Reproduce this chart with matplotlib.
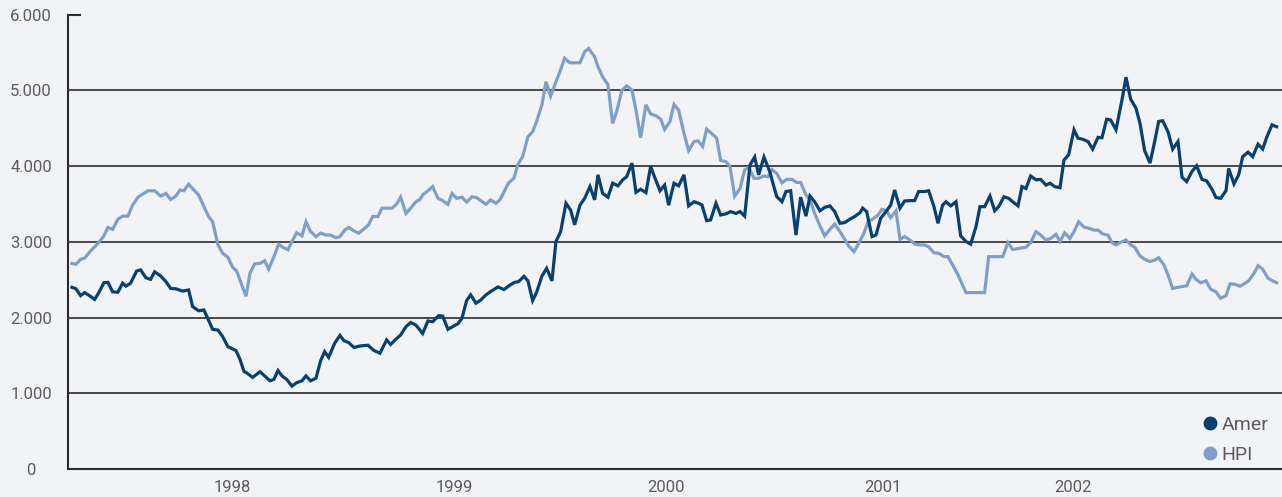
"""
plot.py

Weekly index comparison: Amer against the HPI benchmark, late 1997 to 2002.
Day offsets count from the first weekly observation in the series.
"""

import matplotlib.pyplot as plt
from matplotlib.lines import Line2D
from matplotlib.ticker import FuncFormatter

# Amer index (day offset, level)
amer_day = [
    3, 9, 16, 22, 30, 37, 43, 51, 57, 64, 72, 79, 84, 91, 100, 106, 114, 121,
    127, 136, 144, 151, 159, 169, 178, 184, 193, 201, 214, 222, 229, 237, 249,
    255, 261, 265, 274, 285, 292, 300, 306, 312, 318, 325, 333, 340, 348, 354,
    361, 369, 376, 382, 388, 397, 405, 411, 418, 426, 435, 447, 456, 465, 475,
    481, 489, 496, 504, 511, 519, 529, 537, 544, 553, 559, 567, 574, 582, 588,
    595, 601, 609, 616, 624, 633, 642, 651, 660, 667, 673, 681, 687, 694, 700,
    708, 715, 723, 729, 736, 744, 751, 757, 765, 772, 780, 787, 792, 799, 807,
    814, 822, 829, 835, 843, 849, 856, 864, 871, 877, 885, 892, 898, 906, 913,
    921, 928, 936, 943, 948, 955, 961, 969, 976, 984, 991, 999, 1005, 1012,
    1020, 1027, 1033, 1041, 1050, 1053, 1060, 1068, 1074, 1081, 1089, 1096,
    1104, 1110, 1117, 1125, 1132, 1140, 1147, 1155, 1162, 1170, 1177, 1185,
    1189, 1195, 1203, 1209, 1216, 1224, 1231, 1237, 1245, 1252, 1260, 1267,
    1273, 1282, 1288, 1296, 1302, 1309, 1314, 1321, 1329, 1336, 1344, 1351,
    1359, 1365, 1372, 1380, 1387, 1393, 1401, 1408, 1414, 1422, 1428, 1434,
    1441, 1449, 1456, 1464, 1470, 1477, 1485, 1491, 1498, 1506, 1512, 1519,
    1527, 1534, 1542, 1548, 1555, 1561, 1569, 1578, 1584, 1591, 1599, 1605,
    1612, 1620, 1627, 1633, 1639, 1647, 1654, 1662, 1668, 1675, 1683, 1690,
    1698, 1705, 1713, 1719, 1726, 1734, 1738, 1746, 1753, 1759, 1767, 1774,
    1782, 1789, 1795, 1803, 1810,
]
amer_val = [
    2400, 2380, 2290, 2330, 2285, 2240, 2325, 2460, 2465, 2340, 2335, 2455,
    2415, 2455, 2615, 2630, 2525, 2505, 2605, 2550, 2475, 2385, 2380, 2350,
    2365, 2145, 2090, 2100, 1845, 1835, 1750, 1615, 1565, 1450, 1290, 1270,
    1210, 1285, 1230, 1165, 1185, 1300, 1230, 1185, 1095, 1140, 1165, 1230,
    1165, 1200, 1430, 1550, 1475, 1660, 1765, 1695, 1670, 1605, 1625, 1635,
    1565, 1530, 1705, 1645, 1715, 1770, 1880, 1935, 1900, 1790, 1955, 1945,
    2025, 2020, 1845, 1880, 1920, 1990, 2225, 2300, 2190, 2230, 2300, 2355,
    2405, 2370, 2430, 2465, 2475, 2545, 2485, 2225, 2335, 2550, 2650, 2485,
    3005, 3135, 3510, 3420, 3225, 3485, 3575, 3730, 3555, 3885, 3640, 3590,
    3775, 3740, 3820, 3860, 4040, 3655, 3695, 3650, 3995, 3855, 3675, 3750,
    3485, 3775, 3740, 3885, 3475, 3530, 3510, 3485, 3280, 3290, 3510, 3355,
    3370, 3400, 3375, 3400, 3340, 4015, 4120, 3885, 4120, 3920, 3820, 3600,
    3530, 3665, 3675, 3090, 3590, 3340, 3605, 3530, 3410, 3455, 3475, 3400,
    3245, 3255, 3300, 3335, 3385, 3445, 3400, 3070, 3090, 3310, 3400, 3485,
    3685, 3445, 3540, 3545, 3545, 3665, 3665, 3675, 3465, 3245, 3485, 3530,
    3475, 3530, 3080, 3005, 2970, 3200, 3465, 3465, 3605, 3410, 3465, 3595,
    3575, 3530, 3475, 3730, 3705, 3870, 3820, 3825, 3750, 3775, 3730, 3715,
    4080, 4150, 4480, 4370, 4355, 4325, 4225, 4380, 4375, 4620, 4610, 4480,
    4875, 5175, 4885, 4765, 4565, 4205, 4040, 4325, 4590, 4600, 4455, 4225,
    4325, 3855, 3795, 3930, 4005, 3825, 3805, 3695, 3585, 3575, 3675, 3970,
    3765, 3885, 4125, 4185, 4125, 4290, 4225, 4380, 4545, 4520,
]

# HPI benchmark (day offset, level)
hpi_day = [
    3, 9, 16, 22, 30, 37, 43, 51, 57, 64, 72, 79, 87, 94, 102, 109, 117, 127,
    136, 144, 151, 159, 165, 171, 178, 186, 193, 201, 208, 214, 222, 229, 237,
    244, 250, 256, 264, 270, 277, 285, 292, 298, 306, 313, 319, 327, 333, 340,
    348, 354, 361, 369, 376, 384, 391, 399, 405, 412, 418, 426, 433, 441, 448,
    454, 462, 468, 475, 483, 490, 496, 504, 511, 519, 525, 529, 537, 544, 552,
    559, 567, 573, 580, 588, 595, 603, 610, 616, 624, 631, 639, 645, 652, 658,
    666, 672, 679, 687, 694, 700, 708, 714, 721, 729, 735, 742, 750, 757, 765,
    772, 778, 787, 792, 799, 807, 814, 820, 828, 835, 843, 849, 856, 864, 871,
    879, 886, 892, 900, 906, 913, 921, 928, 936, 942, 949, 955, 963, 970, 976,
    984, 990, 997, 1005, 1012, 1018, 1026, 1033, 1041, 1047, 1053, 1060, 1068,
    1075, 1083, 1090, 1096, 1104, 1110, 1117, 1125, 1132, 1140, 1147, 1155,
    1162, 1168, 1176, 1183, 1191, 1197, 1204, 1212, 1218, 1225, 1231, 1239,
    1245, 1252, 1260, 1267, 1275, 1282, 1288, 1296, 1303, 1311, 1317, 1324,
    1332, 1344, 1372, 1378, 1399, 1407, 1414, 1434, 1441, 1449, 1456, 1464,
    1471, 1479, 1485, 1492, 1500, 1506, 1513, 1521, 1528, 1536, 1542, 1549,
    1557, 1563, 1569, 1575, 1584, 1591, 1597, 1605, 1612, 1620, 1627, 1633,
    1641, 1647, 1654, 1662, 1669, 1675, 1683, 1689, 1696, 1704, 1711, 1719,
    1726, 1734, 1740, 1747, 1755, 1761, 1768, 1776, 1782, 1789, 1797, 1804,
    1810,
]
hpi_val = [
    2715, 2705, 2770, 2785, 2870, 2935, 2990, 3080, 3190, 3165, 3300, 3340,
    3340, 3485, 3590, 3630, 3675, 3675, 3605, 3640, 3560, 3605, 3685, 3675,
    3760, 3685, 3620, 3465, 3335, 3265, 2960, 2850, 2795, 2665, 2615, 2475,
    2280, 2585, 2710, 2715, 2750, 2640, 2805, 2970, 2930, 2895, 3005, 3120,
    3080, 3265, 3135, 3070, 3115, 3090, 3090, 3055, 3070, 3155, 3190, 3145,
    3115, 3170, 3225, 3335, 3335, 3445, 3445, 3445, 3500, 3590, 3375, 3445,
    3530, 3560, 3620, 3675, 3730, 3575, 3545, 3495, 3640, 3575, 3590, 3525,
    3595, 3585, 3545, 3495, 3555, 3510, 3555, 3675, 3780, 3840, 4025, 4125,
    4390, 4455, 4590, 4815, 5115, 4925, 5115, 5250, 5425, 5365, 5365, 5365,
    5510, 5555, 5445, 5315, 5180, 5075, 4565, 4720, 5005, 5060, 5005, 4740,
    4375, 4810, 4690, 4665, 4620, 4485, 4590, 4815, 4740, 4435, 4205, 4325,
    4335, 4260, 4490, 4425, 4370, 4075, 4060, 3995, 3605, 3705, 3950, 3985,
    3840, 3840, 3870, 3860, 3955, 3905, 3780, 3825, 3825, 3785, 3785, 3620,
    3555, 3375, 3210, 3080, 3165, 3235, 3135, 3035, 2945, 2870, 2980, 3115,
    3265, 3300, 3355, 3430, 3410, 3320, 3410, 3035, 3070, 3025, 2970, 2960,
    2960, 2935, 2855, 2850, 2805, 2805, 2695, 2565, 2330, 2330, 2805, 2805,
    2990, 2900, 2930, 2990, 3135, 3090, 3025, 3045, 3100, 3005, 3120, 3045,
    3135, 3265, 3195, 3180, 3155, 3155, 3105, 3090, 2990, 2960, 2990, 3025,
    2960, 2930, 2815, 2770, 2740, 2760, 2790, 2695, 2565, 2385, 2400, 2410,
    2420, 2575, 2505, 2460, 2485, 2375, 2340, 2255, 2290, 2445, 2440, 2415,
    2445, 2485, 2585, 2685, 2640, 2520, 2485, 2460,
]

year_labels = ["1998", "1999", "2000", "2001", "2002"]
year_label_day = [243, 576, 894, 1220, 1505]
gridlines = [1000, 2000, 3000, 4000, 5000]

AMER_COLOR = "#08416f"
HPI_COLOR = "#809fc7"
BACKGROUND = "#f2f3f6"
TEXT_COLOR = "#5c5c5c"
RULE_COLOR = "#2b2b2b"


def thousands(value, _pos):
    """Format 5000 as 5.000, the continental way."""
    return f"{int(value):,}".replace(",", ".")


def plot_index_comparison(path):
    plt.rcParams["font.family"] = ["Roboto", "DejaVu Sans"]

    fig = plt.figure(figsize=(12.82, 4.97), dpi=100, facecolor=BACKGROUND)
    ax = fig.add_axes([0.053, 0.0563, 0.947, 0.9141])
    ax.set_facecolor(BACKGROUND)

    for level in gridlines:
        ax.axhline(level, color=RULE_COLOR, lw=1.2, zorder=1)

    # short rule marking the top of the scale
    ax.axhline(6000, xmin=0, xmax=0.01, color=RULE_COLOR, lw=1.5,
               clip_on=False, zorder=3)

    ax.plot(hpi_day, hpi_val, color=HPI_COLOR, lw=2.3,
            solid_joinstyle="miter", zorder=2)
    ax.plot(amer_day, amer_val, color=AMER_COLOR, lw=2.3,
            solid_joinstyle="miter", zorder=2.5)

    ax.set_xlim(-3, 1818)
    ax.set_ylim(0, 6000)
    ax.set_yticks([0, 1000, 2000, 3000, 4000, 5000, 6000])
    ax.yaxis.set_major_formatter(FuncFormatter(thousands))
    ax.set_xticks(year_label_day)
    ax.set_xticklabels(year_labels)
    # y labels sit centred in the left margin
    ax.tick_params(axis="y", length=0, pad=26.5, labelsize=12,
                   labelcolor=TEXT_COLOR)
    for label in ax.get_yticklabels():
        label.set_horizontalalignment("center")
    ax.tick_params(axis="x", length=0, pad=8, labelsize=12,
                   labelcolor=TEXT_COLOR)

    for side in ("top", "right"):
        ax.spines[side].set_visible(False)
    for side in ("left", "bottom"):
        ax.spines[side].set_color(RULE_COLOR)
        ax.spines[side].set_linewidth(1.5)

    handles = [
        Line2D([], [], color=AMER_COLOR, marker="o", ls="none", markersize=9),
        Line2D([], [], color=HPI_COLOR, marker="o", ls="none", markersize=9),
    ]
    ax.legend(handles, ["Amer", "HPI"], loc="lower right",
              bbox_to_anchor=(1.0, -0.018), frameon=False, fontsize=14,
              labelcolor=TEXT_COLOR, handlelength=0.6, handletextpad=0.3,
              labelspacing=0.62, borderpad=0.2)

    fig.savefig(path, dpi=100, facecolor=BACKGROUND)
    plt.close(fig)


if __name__ == "__main__":
    plot_index_comparison("out.png")
